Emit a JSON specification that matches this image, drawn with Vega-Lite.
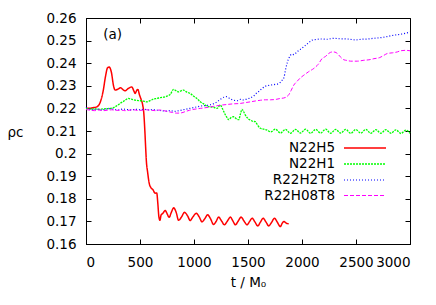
{
"$schema": "https://vega.github.io/schema/vega-lite/v6.json",
"width": 324, "height": 226,
"autosize": "none",
"padding": {"left": 86, "top": 18, "right": 26, "bottom": 61},
"background": "white",
"config": {
  "font": "DejaVu Sans",
  "view": {"stroke": "black", "strokeWidth": 1},
  "axis": {"grid": false, "domainColor": "black", "tickColor": "black", "labelColor": "black", "titleColor": "black", "labelFont": "DejaVu Sans", "labelFontSize": 13.5, "titleFont": "DejaVu Sans", "titleFontSize": 13.5, "titleFontWeight": "normal", "tickSize": -5, "domainWidth": 1, "tickWidth": 1},
  "legend": {"labelFont": "DejaVu Sans", "labelFontSize": 13.5, "labelColor": "black"}
},
"datasets": {
  "curves": [
{"s":"N22H5","t":0,"rho":0.2200},{"s":"N22H5","t":50,"rho":0.2202},{"s":"N22H5","t":100,"rho":0.2207},{"s":"N22H5","t":130,"rho":0.2225},{"s":"N22H5","t":160,"rho":0.2280},{"s":"N22H5","t":180,"rho":0.2340},{"s":"N22H5","t":200,"rho":0.2380},{"s":"N22H5","t":215,"rho":0.2383},{"s":"N22H5","t":235,"rho":0.2360},{"s":"N22H5","t":255,"rho":0.2300},{"s":"N22H5","t":270,"rho":0.2281},{"s":"N22H5","t":295,"rho":0.2285},{"s":"N22H5","t":320,"rho":0.2291},{"s":"N22H5","t":345,"rho":0.2282},{"s":"N22H5","t":362,"rho":0.2278},{"s":"N22H5","t":390,"rho":0.2288},{"s":"N22H5","t":424,"rho":0.2295},{"s":"N22H5","t":445,"rho":0.2275},{"s":"N22H5","t":455,"rho":0.2266},{"s":"N22H5","t":470,"rho":0.2280},{"s":"N22H5","t":480,"rho":0.2284},{"s":"N22H5","t":495,"rho":0.2260},{"s":"N22H5","t":510,"rho":0.2240},{"s":"N22H5","t":525,"rho":0.2215},{"s":"N22H5","t":535,"rho":0.2180},{"s":"N22H5","t":545,"rho":0.2100},{"s":"N22H5","t":552,"rho":0.2030},{"s":"N22H5","t":560,"rho":0.1960},{"s":"N22H5","t":570,"rho":0.1920},{"s":"N22H5","t":585,"rho":0.1869},{"s":"N22H5","t":600,"rho":0.1850},{"s":"N22H5","t":620,"rho":0.1840},{"s":"N22H5","t":640,"rho":0.1825},{"s":"N22H5","t":655,"rho":0.1826},{"s":"N22H5","t":665,"rho":0.1780},{"s":"N22H5","t":675,"rho":0.1720},{"s":"N22H5","t":685,"rho":0.1705},{"s":"N22H5","t":695,"rho":0.1728},{"s":"N22H5","t":710,"rho":0.1735},{"s":"N22H5","t":735,"rho":0.1748},{"s":"N22H5","t":750,"rho":0.1735},{"s":"N22H5","t":770,"rho":0.1718},{"s":"N22H5","t":790,"rho":0.1740},{"s":"N22H5","t":812,"rho":0.1760},{"s":"N22H5","t":835,"rho":0.1740},{"s":"N22H5","t":857,"rho":0.1705},{"s":"N22H5","t":885,"rho":0.1720},{"s":"N22H5","t":912,"rho":0.1740},{"s":"N22H5","t":940,"rho":0.1725},{"s":"N22H5","t":965,"rho":0.1704},{"s":"N22H5","t":990,"rho":0.1720},{"s":"N22H5","t":1021,"rho":0.1736},{"s":"N22H5","t":1048,"rho":0.1720},{"s":"N22H5","t":1074,"rho":0.1698},{"s":"N22H5","t":1100,"rho":0.1712},{"s":"N22H5","t":1126,"rho":0.1729},{"s":"N22H5","t":1155,"rho":0.1710},{"s":"N22H5","t":1181,"rho":0.1686},{"s":"N22H5","t":1205,"rho":0.1700},{"s":"N22H5","t":1228,"rho":0.1719},{"s":"N22H5","t":1255,"rho":0.1702},{"s":"N22H5","t":1281,"rho":0.1685},{"s":"N22H5","t":1310,"rho":0.1702},{"s":"N22H5","t":1336,"rho":0.1719},{"s":"N22H5","t":1360,"rho":0.1702},{"s":"N22H5","t":1383,"rho":0.1685},{"s":"N22H5","t":1410,"rho":0.1702},{"s":"N22H5","t":1436,"rho":0.1719},{"s":"N22H5","t":1465,"rho":0.1700},{"s":"N22H5","t":1491,"rho":0.1685},{"s":"N22H5","t":1515,"rho":0.1700},{"s":"N22H5","t":1538,"rho":0.1714},{"s":"N22H5","t":1565,"rho":0.1697},{"s":"N22H5","t":1590,"rho":0.1680},{"s":"N22H5","t":1615,"rho":0.1697},{"s":"N22H5","t":1640,"rho":0.1714},{"s":"N22H5","t":1667,"rho":0.1697},{"s":"N22H5","t":1692,"rho":0.1680},{"s":"N22H5","t":1720,"rho":0.1697},{"s":"N22H5","t":1745,"rho":0.1714},{"s":"N22H5","t":1772,"rho":0.1696},{"s":"N22H5","t":1800,"rho":0.1677},{"s":"N22H5","t":1815,"rho":0.1690},{"s":"N22H5","t":1831,"rho":0.1700},{"s":"N22H5","t":1855,"rho":0.1692},{"s":"N22H5","t":1877,"rho":0.1689},
{"s":"N22H1","t":0,"rho":0.2200},{"s":"N22H1","t":40,"rho":0.2197},{"s":"N22H1","t":80,"rho":0.2198},{"s":"N22H1","t":120,"rho":0.2196},{"s":"N22H1","t":160,"rho":0.2198},{"s":"N22H1","t":200,"rho":0.2199},{"s":"N22H1","t":240,"rho":0.2201},{"s":"N22H1","t":280,"rho":0.2210},{"s":"N22H1","t":315,"rho":0.2222},{"s":"N22H1","t":350,"rho":0.2232},{"s":"N22H1","t":393,"rho":0.2244},{"s":"N22H1","t":420,"rho":0.2241},{"s":"N22H1","t":460,"rho":0.2236},{"s":"N22H1","t":501,"rho":0.2234},{"s":"N22H1","t":530,"rho":0.2232},{"s":"N22H1","t":563,"rho":0.2229},{"s":"N22H1","t":600,"rho":0.2236},{"s":"N22H1","t":630,"rho":0.2242},{"s":"N22H1","t":656,"rho":0.2244},{"s":"N22H1","t":690,"rho":0.2248},{"s":"N22H1","t":720,"rho":0.2250},{"s":"N22H1","t":748,"rho":0.2254},{"s":"N22H1","t":780,"rho":0.2262},{"s":"N22H1","t":811,"rho":0.2284},{"s":"N22H1","t":835,"rho":0.2278},{"s":"N22H1","t":857,"rho":0.2273},{"s":"N22H1","t":880,"rho":0.2278},{"s":"N22H1","t":903,"rho":0.2281},{"s":"N22H1","t":930,"rho":0.2273},{"s":"N22H1","t":965,"rho":0.2266},{"s":"N22H1","t":995,"rho":0.2255},{"s":"N22H1","t":1027,"rho":0.2244},{"s":"N22H1","t":1058,"rho":0.2229},{"s":"N22H1","t":1089,"rho":0.2220},{"s":"N22H1","t":1120,"rho":0.2210},{"s":"N22H1","t":1150,"rho":0.2207},{"s":"N22H1","t":1182,"rho":0.2205},{"s":"N22H1","t":1213,"rho":0.2200},{"s":"N22H1","t":1244,"rho":0.2215},{"s":"N22H1","t":1262,"rho":0.2200},{"s":"N22H1","t":1290,"rho":0.2172},{"s":"N22H1","t":1305,"rho":0.2160},{"s":"N22H1","t":1321,"rho":0.2150},{"s":"N22H1","t":1345,"rho":0.2160},{"s":"N22H1","t":1367,"rho":0.2163},{"s":"N22H1","t":1390,"rho":0.2155},{"s":"N22H1","t":1414,"rho":0.2150},{"s":"N22H1","t":1430,"rho":0.2175},{"s":"N22H1","t":1445,"rho":0.2196},{"s":"N22H1","t":1460,"rho":0.2185},{"s":"N22H1","t":1476,"rho":0.2170},{"s":"N22H1","t":1500,"rho":0.2155},{"s":"N22H1","t":1522,"rho":0.2148},{"s":"N22H1","t":1545,"rho":0.2143},{"s":"N22H1","t":1568,"rho":0.2141},{"s":"N22H1","t":1590,"rho":0.2125},{"s":"N22H1","t":1615,"rho":0.2112},{"s":"N22H1","t":1645,"rho":0.2108},{"s":"N22H1","t":1677,"rho":0.2104},{"s":"N22H1","t":1710,"rho":0.2096},{"s":"N22H1","t":1754,"rho":0.2108},{"s":"N22H1","t":1800,"rho":0.2091},{"s":"N22H1","t":1847,"rho":0.2107},{"s":"N22H1","t":1893,"rho":0.2090},{"s":"N22H1","t":1940,"rho":0.2107},{"s":"N22H1","t":1986,"rho":0.2091},{"s":"N22H1","t":2033,"rho":0.2108},{"s":"N22H1","t":2079,"rho":0.2090},{"s":"N22H1","t":2126,"rho":0.2107},{"s":"N22H1","t":2172,"rho":0.2091},{"s":"N22H1","t":2219,"rho":0.2108},{"s":"N22H1","t":2265,"rho":0.2090},{"s":"N22H1","t":2312,"rho":0.2107},{"s":"N22H1","t":2358,"rho":0.2091},{"s":"N22H1","t":2405,"rho":0.2107},{"s":"N22H1","t":2451,"rho":0.2090},{"s":"N22H1","t":2498,"rho":0.2106},{"s":"N22H1","t":2544,"rho":0.2091},{"s":"N22H1","t":2591,"rho":0.2107},{"s":"N22H1","t":2637,"rho":0.2090},{"s":"N22H1","t":2684,"rho":0.2106},{"s":"N22H1","t":2730,"rho":0.2090},{"s":"N22H1","t":2777,"rho":0.2106},{"s":"N22H1","t":2823,"rho":0.2090},{"s":"N22H1","t":2870,"rho":0.2105},{"s":"N22H1","t":2916,"rho":0.2089},{"s":"N22H1","t":2963,"rho":0.2104},{"s":"N22H1","t":3000,"rho":0.2090},
{"s":"R22H2T8","t":0,"rho":0.2205},{"s":"R22H2T8","t":30,"rho":0.2198},{"s":"R22H2T8","t":60,"rho":0.2194},{"s":"R22H2T8","t":100,"rho":0.2197},{"s":"R22H2T8","t":140,"rho":0.2193},{"s":"R22H2T8","t":180,"rho":0.2196},{"s":"R22H2T8","t":220,"rho":0.2199},{"s":"R22H2T8","t":260,"rho":0.2196},{"s":"R22H2T8","t":300,"rho":0.2193},{"s":"R22H2T8","t":340,"rho":0.2197},{"s":"R22H2T8","t":380,"rho":0.2195},{"s":"R22H2T8","t":420,"rho":0.2193},{"s":"R22H2T8","t":460,"rho":0.2196},{"s":"R22H2T8","t":500,"rho":0.2194},{"s":"R22H2T8","t":540,"rho":0.2196},{"s":"R22H2T8","t":580,"rho":0.2193},{"s":"R22H2T8","t":620,"rho":0.2195},{"s":"R22H2T8","t":660,"rho":0.2192},{"s":"R22H2T8","t":700,"rho":0.2190},{"s":"R22H2T8","t":740,"rho":0.2188},{"s":"R22H2T8","t":780,"rho":0.2190},{"s":"R22H2T8","t":820,"rho":0.2187},{"s":"R22H2T8","t":860,"rho":0.2190},{"s":"R22H2T8","t":900,"rho":0.2194},{"s":"R22H2T8","t":940,"rho":0.2198},{"s":"R22H2T8","t":980,"rho":0.2202},{"s":"R22H2T8","t":1020,"rho":0.2206},{"s":"R22H2T8","t":1058,"rho":0.2210},{"s":"R22H2T8","t":1100,"rho":0.2212},{"s":"R22H2T8","t":1151,"rho":0.2216},{"s":"R22H2T8","t":1200,"rho":0.2225},{"s":"R22H2T8","t":1244,"rho":0.2240},{"s":"R22H2T8","t":1275,"rho":0.2249},{"s":"R22H2T8","t":1300,"rho":0.2252},{"s":"R22H2T8","t":1336,"rho":0.2242},{"s":"R22H2T8","t":1370,"rho":0.2236},{"s":"R22H2T8","t":1398,"rho":0.2234},{"s":"R22H2T8","t":1430,"rho":0.2240},{"s":"R22H2T8","t":1460,"rho":0.2237},{"s":"R22H2T8","t":1491,"rho":0.2242},{"s":"R22H2T8","t":1520,"rho":0.2246},{"s":"R22H2T8","t":1553,"rho":0.2255},{"s":"R22H2T8","t":1580,"rho":0.2268},{"s":"R22H2T8","t":1600,"rho":0.2275},{"s":"R22H2T8","t":1631,"rho":0.2288},{"s":"R22H2T8","t":1660,"rho":0.2298},{"s":"R22H2T8","t":1708,"rho":0.2303},{"s":"R22H2T8","t":1750,"rho":0.2306},{"s":"R22H2T8","t":1785,"rho":0.2310},{"s":"R22H2T8","t":1816,"rho":0.2325},{"s":"R22H2T8","t":1832,"rho":0.2335},{"s":"R22H2T8","t":1847,"rho":0.2370},{"s":"R22H2T8","t":1865,"rho":0.2405},{"s":"R22H2T8","t":1887,"rho":0.2430},{"s":"R22H2T8","t":1905,"rho":0.2440},{"s":"R22H2T8","t":1924,"rho":0.2438},{"s":"R22H2T8","t":1950,"rho":0.2448},{"s":"R22H2T8","t":1971,"rho":0.2457},{"s":"R22H2T8","t":2000,"rho":0.2466},{"s":"R22H2T8","t":2032,"rho":0.2479},{"s":"R22H2T8","t":2060,"rho":0.2490},{"s":"R22H2T8","t":2094,"rho":0.2502},{"s":"R22H2T8","t":2130,"rho":0.2505},{"s":"R22H2T8","t":2172,"rho":0.2507},{"s":"R22H2T8","t":2230,"rho":0.2506},{"s":"R22H2T8","t":2295,"rho":0.2510},{"s":"R22H2T8","t":2350,"rho":0.2508},{"s":"R22H2T8","t":2419,"rho":0.2507},{"s":"R22H2T8","t":2460,"rho":0.2505},{"s":"R22H2T8","t":2497,"rho":0.2503},{"s":"R22H2T8","t":2550,"rho":0.2506},{"s":"R22H2T8","t":2605,"rho":0.2507},{"s":"R22H2T8","t":2660,"rho":0.2510},{"s":"R22H2T8","t":2728,"rho":0.2513},{"s":"R22H2T8","t":2790,"rho":0.2518},{"s":"R22H2T8","t":2852,"rho":0.2524},{"s":"R22H2T8","t":2900,"rho":0.2527},{"s":"R22H2T8","t":2945,"rho":0.2531},{"s":"R22H2T8","t":3000,"rho":0.2538},
{"s":"R22H08T8","t":0,"rho":0.2195},{"s":"R22H08T8","t":40,"rho":0.2192},{"s":"R22H08T8","t":80,"rho":0.2190},{"s":"R22H08T8","t":120,"rho":0.2193},{"s":"R22H08T8","t":160,"rho":0.2190},{"s":"R22H08T8","t":200,"rho":0.2192},{"s":"R22H08T8","t":240,"rho":0.2194},{"s":"R22H08T8","t":280,"rho":0.2191},{"s":"R22H08T8","t":320,"rho":0.2193},{"s":"R22H08T8","t":360,"rho":0.2190},{"s":"R22H08T8","t":400,"rho":0.2192},{"s":"R22H08T8","t":440,"rho":0.2194},{"s":"R22H08T8","t":480,"rho":0.2191},{"s":"R22H08T8","t":520,"rho":0.2192},{"s":"R22H08T8","t":560,"rho":0.2194},{"s":"R22H08T8","t":600,"rho":0.2192},{"s":"R22H08T8","t":640,"rho":0.2190},{"s":"R22H08T8","t":680,"rho":0.2193},{"s":"R22H08T8","t":720,"rho":0.2190},{"s":"R22H08T8","t":760,"rho":0.2186},{"s":"R22H08T8","t":800,"rho":0.2182},{"s":"R22H08T8","t":840,"rho":0.2179},{"s":"R22H08T8","t":880,"rho":0.2180},{"s":"R22H08T8","t":920,"rho":0.2186},{"s":"R22H08T8","t":960,"rho":0.2192},{"s":"R22H08T8","t":1000,"rho":0.2196},{"s":"R22H08T8","t":1058,"rho":0.2200},{"s":"R22H08T8","t":1120,"rho":0.2204},{"s":"R22H08T8","t":1180,"rho":0.2209},{"s":"R22H08T8","t":1244,"rho":0.2214},{"s":"R22H08T8","t":1300,"rho":0.2217},{"s":"R22H08T8","t":1360,"rho":0.2220},{"s":"R22H08T8","t":1429,"rho":0.2222},{"s":"R22H08T8","t":1480,"rho":0.2226},{"s":"R22H08T8","t":1522,"rho":0.2229},{"s":"R22H08T8","t":1570,"rho":0.2233},{"s":"R22H08T8","t":1615,"rho":0.2236},{"s":"R22H08T8","t":1660,"rho":0.2238},{"s":"R22H08T8","t":1708,"rho":0.2238},{"s":"R22H08T8","t":1760,"rho":0.2240},{"s":"R22H08T8","t":1800,"rho":0.2244},{"s":"R22H08T8","t":1831,"rho":0.2246},{"s":"R22H08T8","t":1860,"rho":0.2252},{"s":"R22H08T8","t":1877,"rho":0.2260},{"s":"R22H08T8","t":1900,"rho":0.2280},{"s":"R22H08T8","t":1924,"rho":0.2303},{"s":"R22H08T8","t":1955,"rho":0.2320},{"s":"R22H08T8","t":1985,"rho":0.2335},{"s":"R22H08T8","t":2017,"rho":0.2347},{"s":"R22H08T8","t":2060,"rho":0.2362},{"s":"R22H08T8","t":2110,"rho":0.2377},{"s":"R22H08T8","t":2150,"rho":0.2395},{"s":"R22H08T8","t":2187,"rho":0.2421},{"s":"R22H08T8","t":2218,"rho":0.2430},{"s":"R22H08T8","t":2250,"rho":0.2444},{"s":"R22H08T8","t":2280,"rho":0.2450},{"s":"R22H08T8","t":2305,"rho":0.2449},{"s":"R22H08T8","t":2327,"rho":0.2443},{"s":"R22H08T8","t":2355,"rho":0.2428},{"s":"R22H08T8","t":2388,"rho":0.2415},{"s":"R22H08T8","t":2419,"rho":0.2412},{"s":"R22H08T8","t":2450,"rho":0.2409},{"s":"R22H08T8","t":2512,"rho":0.2409},{"s":"R22H08T8","t":2573,"rho":0.2413},{"s":"R22H08T8","t":2620,"rho":0.2415},{"s":"R22H08T8","t":2666,"rho":0.2420},{"s":"R22H08T8","t":2720,"rho":0.2425},{"s":"R22H08T8","t":2759,"rho":0.2435},{"s":"R22H08T8","t":2790,"rho":0.2443},{"s":"R22H08T8","t":2840,"rho":0.2446},{"s":"R22H08T8","t":2883,"rho":0.2450},{"s":"R22H08T8","t":2914,"rho":0.2455},{"s":"R22H08T8","t":2960,"rho":0.2457},{"s":"R22H08T8","t":3000,"rho":0.2455}
  ],
  "note": [{"t": 160, "rho": 0.2525, "label": "(a)"}]
},
"layer": [
  {
    "data": {"name": "curves"},
    "mark": {"type": "line", "interpolate": "monotone"},
    "encoding": {
      "x": {"field": "t", "type": "quantitative", "scale": {"domain": [0, 3000], "nice": false, "zero": false},
            "axis": {"orient": "bottom", "values": [0,500,1000,1500,2000,2500,3000], "format": "d", "labelPadding": 16, "title": "t / M₀", "titleY": 42, "titleBaseline": "alphabetic"}},
      "y": {"field": "rho", "type": "quantitative", "scale": {"domain": [0.16, 0.26], "nice": false, "zero": false},
            "axis": {"orient": "left", "values": [0.16,0.17,0.18,0.19,0.2,0.21,0.22,0.23,0.24,0.25,0.26], "format": ".2~f", "labelPadding": 15, "title": "ρc", "titleAngle": 0, "titleX": -71, "titleY": 114, "titleAlign": "center", "titleBaseline": "middle"}},
      "color": {"field": "s", "type": "nominal", "scale": {"domain": ["N22H5","N22H1","R22H2T8","R22H08T8"], "range": ["#ff0000","#00ff00","#0000ff","#ff00ff"]},
                "legend": {"title": null, "orient": "none", "legendX": 271, "legendY": 122, "symbolType": "M-3,0H3", "symbolSize": 196, "labelAlign": "right", "labelOffset": -38, "rowPadding": 1, "padding": 0}},
      "strokeDash": {"field": "s", "type": "nominal", "scale": {"domain": ["N22H5","N22H1","R22H2T8","R22H08T8"], "range": [[1,0],[2,1],[1,2],[4,2]]}},
      "strokeWidth": {"field": "s", "type": "nominal", "scale": {"domain": ["N22H5","N22H1","R22H2T8","R22H08T8"], "range": [1.5,1,1,1]}}
    }
  },
  {
    "data": {"name": "note"},
    "mark": {"type": "text", "align": "left", "baseline": "middle", "fontSize": 13.5, "font": "DejaVu Sans", "color": "black"},
    "encoding": {
      "x": {"field": "t", "type": "quantitative", "scale": {"domain": [0, 3000], "nice": false, "zero": false},
            "axis": {"orient": "top", "values": [0,500,1000,1500,2000,2500,3000], "labels": false, "title": null, "domain": false}},
      "y": {"field": "rho", "type": "quantitative", "scale": {"domain": [0.16, 0.26], "nice": false, "zero": false},
            "axis": {"orient": "right", "values": [0.16,0.17,0.18,0.19,0.2,0.21,0.22,0.23,0.24,0.25,0.26], "labels": false, "title": null, "domain": false}},
      "text": {"field": "label"}
    }
  }
],
"resolve": {"axis": {"x": "independent", "y": "independent"}}
}
